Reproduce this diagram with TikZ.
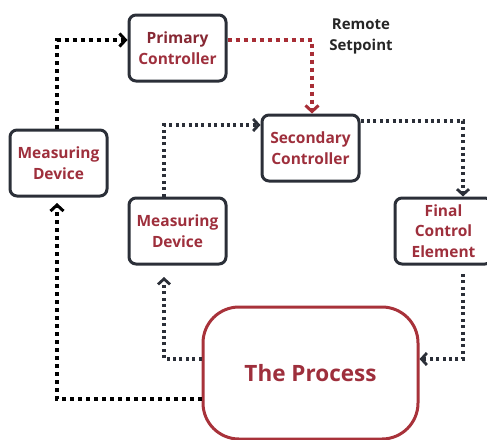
\documentclass[tikz,border=0pt]{standalone}
\usepackage{fontspec}
\setmainfont{Open Sans}
\usetikzlibrary{arrows.meta}
\definecolor{boxline}{HTML}{2B2F38}
\definecolor{txtred}{HTML}{9E2F3C}
\definecolor{procred}{HTML}{A8323A}
\definecolor{dotred}{HTML}{A82E36}
\tikzset{
  box/.style={draw=boxline, line width=3pt, rounded corners=7pt, minimum width=97pt, minimum height=66pt, inner sep=0pt, align=center, text=txtred, font=\fontsize{15.5}{20.5}\selectfont\bfseries},
  proc/.style={draw=procred, line width=3pt, rounded corners=36pt, minimum width=215pt, minimum height=132pt, text=txtred, font=\fontsize{22.5}{26}\selectfont\bfseries},
  thickdot/.style={draw=black, line width=4pt, dash pattern=on 4pt off 4pt, -{Straight Barb[length=6pt,width=13pt,line width=3pt]}},
  thindot/.style={draw=boxline, line width=3.2pt, dash pattern=on 3pt off 3.4pt, -{Straight Barb[length=5.5pt,width=12pt,line width=2.8pt]}},
  reddot/.style={draw=dotred, line width=4pt, dash pattern=on 4pt off 4pt, -{Straight Barb[length=6pt,width=13pt,line width=3pt]}},
}
\begin{document}
\begin{tikzpicture}[x=1pt,y=-1pt]
\useasboundingbox (0,0) rectangle (487,439);
\begin{scope}
\clip (0,0) rectangle (487,439);
\node[box] (pc) at (177.5,48) {{\color{txtred!85!black}Primary}\\Controller};
\node[box] (md1) at (58.5,163) {Measuring\\Device};
\node[box] (sc) at (310.5,148) {Secondary\\Controller};
\node[box] (md2) at (177.5,231) {Measuring\\Device};
\node[box] (fce) at (443.5,231) {Final\\Control\\Element};
\node[proc] (proc) at (310.5,373) {The Process};
\node[align=center, font=\fontsize{15}{21}\selectfont\bfseries, text=black!85] (rs) at (361,36) {Remote\\Setpoint};

\coordinate (a1) at (57,40);
\draw[thickdot] (md1.north -| a1) -- (a1) -- (a1 -| pc.west);
\coordinate (a2) at (312,40);
\draw[reddot] (a2 -| pc.east) -- (a2) -- (a2 |- sc.north);
\coordinate (a3) at (164,125);
\draw[thindot] (a3 |- md2.north) -- (a3) -- (a3 -| sc.west);
\coordinate (a4) at (463,121);
\draw[thindot] (a4 -| sc.east) -- (a4) -- (a4 |- fce.north);
\coordinate (a5) at (463,359);
\coordinate (a5s) at (463,274);
\draw[thindot] (a5s) -- (a5) -- (a5 -| proc.east);
\coordinate (a6) at (164,359);
\coordinate (a6e) at (164,277);
\draw[thindot] (a6 -| proc.west) -- (a6) -- (a6e);
\coordinate (a7) at (57,399);
\coordinate (a7e) at (57,203);
\draw[thickdot] (a7 -| proc.west) -- (a7) -- (a7e);
\end{scope}
\end{tikzpicture}
\end{document}
